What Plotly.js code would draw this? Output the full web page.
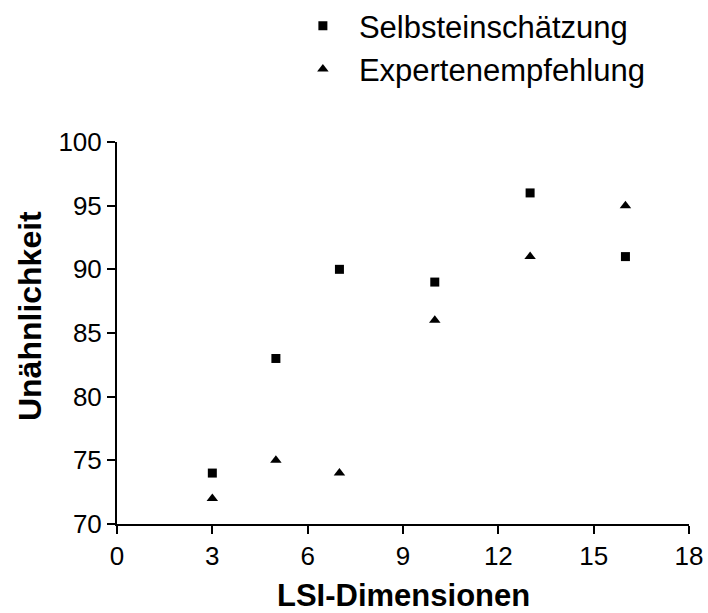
<!DOCTYPE html>
<html>
<head>
<meta charset="utf-8">
<script src="https://cdn.plot.ly/plotly-3.0.1.min.js"></script>
<style>html,body{margin:0;padding:0;background:#fff;}#chart{width:708px;height:613px;}</style>
</head>
<body>
<div id="chart"></div>
<script>
const dimensions = [3, 5, 7, 10, 13, 16];
const selbst = [74, 83, 90, 89, 96, 91];
const experten = [72, 75, 74, 86, 91, 95];
const seriesNames = ["Selbsteinschätzung", "Expertenempfehlung"];
const xTicks = [0, 3, 6, 9, 12, 15, 18];
const yTicks = [70, 75, 80, 85, 90, 95, 100];
const xTitle = "LSI-Dimensionen";
const yTitle = "Unähnlichkeit";

const font = "Liberation Sans, Arial, sans-serif";
const traces = [
  {x: dimensions, y: selbst, name: seriesNames[0], type: "scatter", mode: "markers",
   marker: {symbol: "square", size: 9, color: "#000"}, cliponaxis: false},
  {x: dimensions, y: experten, name: seriesNames[1], type: "scatter", mode: "markers",
   marker: {symbol: "triangle-up", size: 10, color: "#000"}, cliponaxis: false}
];
const layout = {
  width: 708, height: 613,
  margin: {l: 117, r: 19, t: 142, b: 89, autoexpand: false},
  paper_bgcolor: "#fff", plot_bgcolor: "#fff",
  font: {family: font, color: "#000", size: 26},
  showlegend: true,
  legend: {x: 0.297, y: 1.374, xanchor: "left", yanchor: "top",
           font: {size: 31, family: font}, itemwidth: 62, bgcolor: "rgba(0,0,0,0)"},
  xaxis: {range: [0, 18], tickvals: xTicks, ticktext: xTicks.map(String), showgrid: false, zeroline: false,
          showline: true, linecolor: "#000", linewidth: 2, ticks: "outside", ticklen: 8, tickwidth: 2, tickcolor: "#000",
          tickfont: {size: 26}},
  yaxis: {range: [70, 100], tickvals: yTicks, ticktext: yTicks.map(String), showgrid: false, zeroline: false,
          showline: true, linecolor: "#000", linewidth: 2, ticks: "outside", ticklen: 8, tickwidth: 2, tickcolor: "#000",
          tickfont: {size: 26}},
  annotations: [
    {text: "<b>" + xTitle + "</b>", xref: "paper", yref: "paper", x: 0.5, y: -0.186,
     xanchor: "center", yanchor: "middle", showarrow: false,
     font: {size: 31, family: font, color: "#000"}},
    {text: "<b>" + yTitle + "</b>", xref: "paper", yref: "paper", x: -0.152, y: 0.5445,
     xanchor: "center", yanchor: "middle", textangle: -90, showarrow: false,
     font: {size: 32, family: font, color: "#000"}}]
};
Plotly.newPlot("chart", traces, layout, {displayModeBar: false, staticPlot: true});
</script>
</body>
</html>
